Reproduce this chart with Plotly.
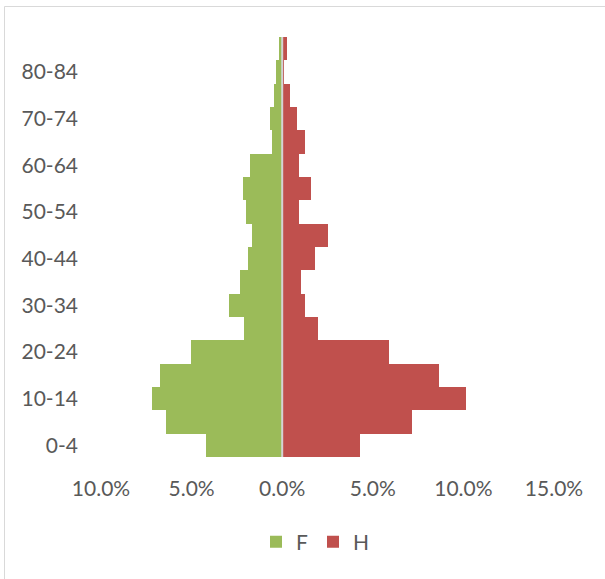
import plotly.graph_objects as go

# Age groups, youngest at the bottom
age_groups = ["0-4", "5-9", "10-14", "15-19", "20-24", "25-29", "30-34", "35-39",
              "40-44", "45-49", "50-54", "55-59", "60-64", "65-69", "70-74",
              "75-79", "80-84", "85+"]

# Share of the population (%) per age group
femmes = [4.23, 6.44, 7.17, 6.77, 5.06, 2.10, 2.92, 2.35, 1.88, 1.68, 2.02, 2.17,
          1.75, 0.57, 0.70, 0.44, 0.35, 0.15]
hommes = [4.28, 7.19, 10.13, 8.64, 5.88, 1.95, 1.27, 1.06, 1.80, 2.50, 0.92, 1.58,
          0.92, 1.27, 0.79, 0.44, 0.12, 0.24]

x_tickvals = [-10, -5, 0, 5, 10, 15]
x_ticktext = ["10.0%", "5.0%", "0.0%", "5.0%", "10.0%", "15.0%"]
y_ticklabels = age_groups[0:17:2]

GREEN = "#9BBB59"
RED = "#C0504D"
TEXT = "#595959"
FONT = "Lato"

fig = go.Figure()
fig.add_trace(go.Bar(
    y=age_groups, x=[-v for v in femmes], orientation="h", name="F",
    marker=dict(color=GREEN, line=dict(width=0)),
))
fig.add_trace(go.Bar(
    y=age_groups, x=hommes, orientation="h", name="H",
    marker=dict(color=RED, line=dict(width=0)),
))

W, H = 605, 579
L, R, T, B = 101, 51, 37, 122
pw, ph = W - L - R, H - T - B

fig.update_layout(
    width=W, height=H,
    margin=dict(l=L, r=R, t=T, b=B, pad=0),
    paper_bgcolor="white", plot_bgcolor="white",
    barmode="overlay", bargap=0,
    font=dict(family=FONT, size=21, color=TEXT),
    showlegend=True,
    legend=dict(
        orientation="h", x=(256 - L) / pw, xanchor="left",
        y=-(542 - (H - B)) / ph, yanchor="middle",
        font=dict(family=FONT, size=21, color=TEXT),
        bgcolor="rgba(0,0,0,0)", traceorder="normal",
    ),
    xaxis=dict(
        range=[-10, 15], tickvals=x_tickvals, ticktext=x_ticktext,
        showgrid=False, zeroline=False, showline=False, ticks="",
        ticklabelstandoff=17, fixedrange=True,
    ),
    yaxis=dict(
        type="category", categoryorder="array", categoryarray=age_groups,
        range=[-0.5, len(age_groups) - 0.5],
        tickvals=y_ticklabels, ticktext=y_ticklabels,
        showgrid=False, zeroline=False, showline=False, ticks="",
        ticklabelstandoff=22, fixedrange=True,
    ),
    shapes=[
        # vertical axis line at 0 %
        dict(type="line", xref="x", yref="paper", x0=0, x1=0, y0=0, y1=1,
             line=dict(color="#D4D4D4", width=2), layer="above"),
        # chart-area border
        dict(type="rect", xref="paper", yref="paper",
             x0=(4.5 - L) / pw, x1=(W + 20 - L) / pw,
             y0=-(H + 20 - (H - B)) / ph, y1=((H - B) - 6.5) / ph,
             line=dict(color="#D9D9D9", width=1), fillcolor="rgba(0,0,0,0)",
             layer="below"),
    ],
)

fig.write_html("out.html")
